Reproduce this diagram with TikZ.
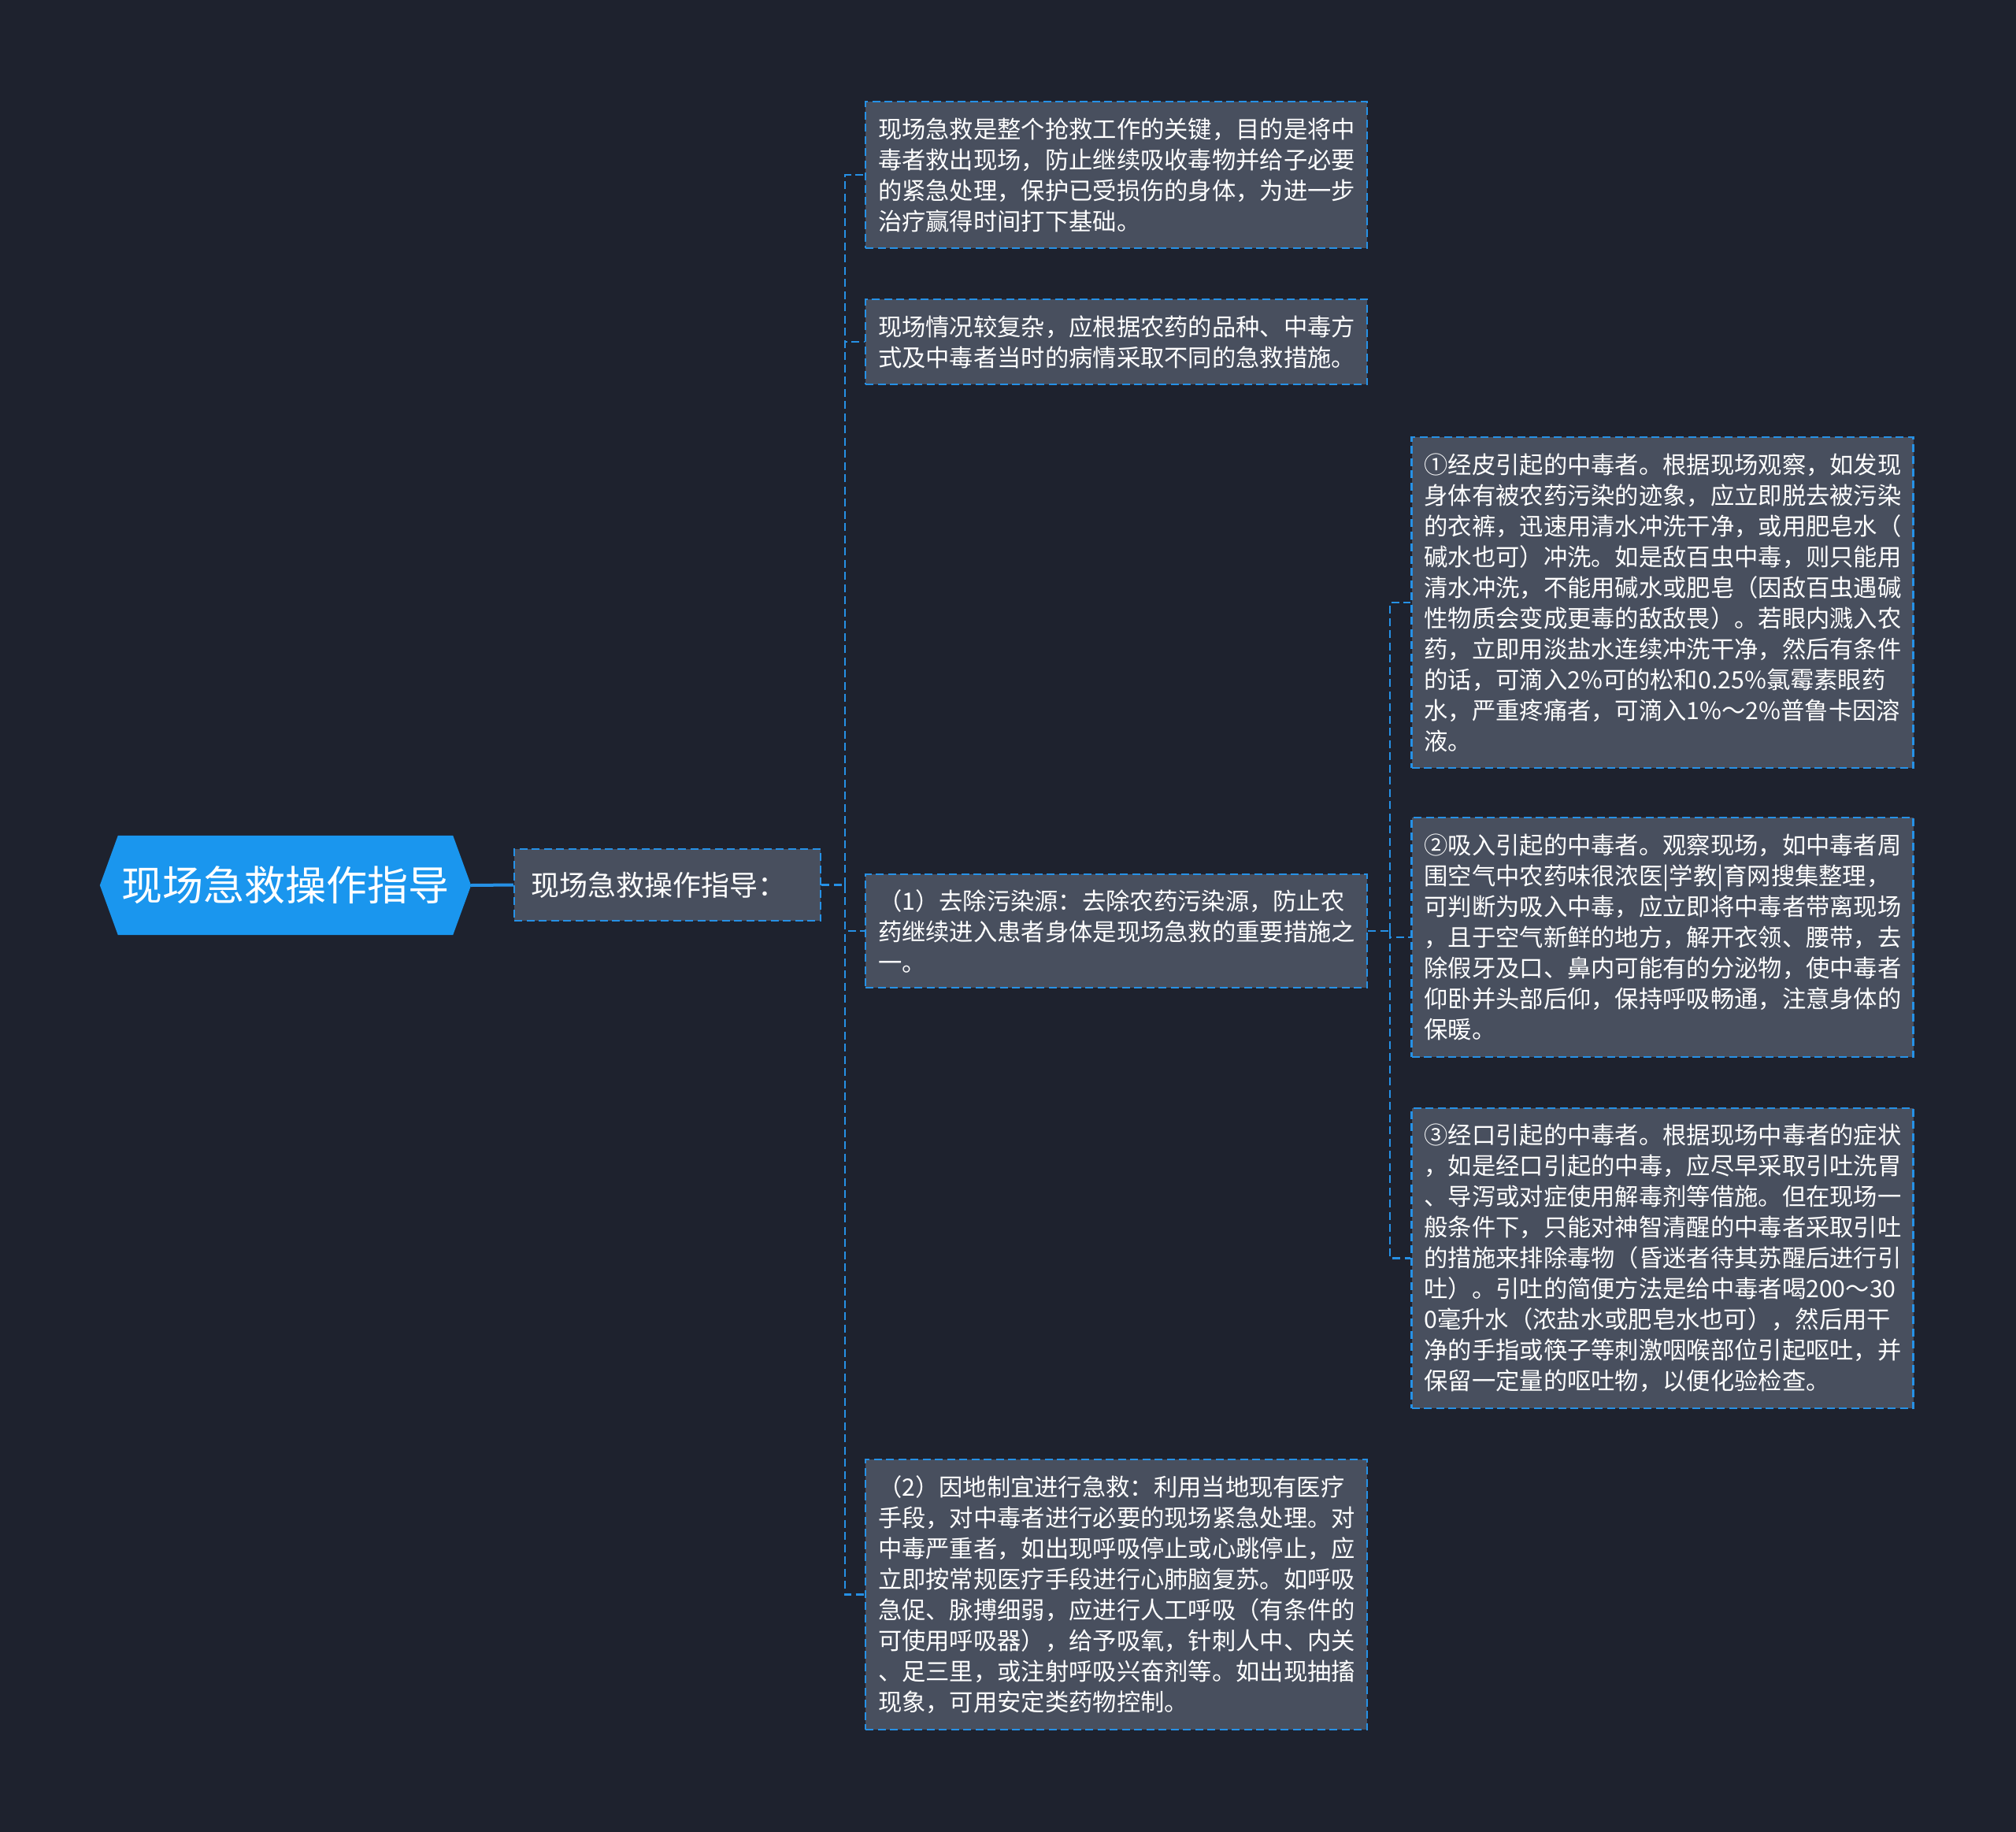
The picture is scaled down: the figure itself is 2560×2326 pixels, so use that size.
\documentclass[tikz,border=0pt]{standalone}
\usepackage{fontspec}
\newfontfamily\cjk{Noto Sans CJK SC}
\usetikzlibrary{calc}
\definecolor{bgdark}{RGB}{30,34,46}
\definecolor{boxgray}{RGB}{72,79,94}
\definecolor{linkblue}{RGB}{38,145,230}
\definecolor{rootblue}{RGB}{26,150,238}
\pgfdeclarelayer{bg}
\pgfsetlayers{bg,main}
\begin{document}
\begin{tikzpicture}[x=1pt,y=-1pt,
  box/.style={draw=linkblue, line width=2.2pt, dash pattern=on 10pt off 5.5pt, fill=boxgray,
    text=white, font=\cjk\fontsize{30.3}{39}\selectfont, align=left,
    inner xsep=16pt, inner ysep=0pt, text width=605pt},
  conn/.style={draw=linkblue, line width=2.2pt, dash pattern=on 10pt off 5.5pt},
  roottext/.style={text=white, font=\cjk\fontsize{52}{60}\selectfont,
    minimum width=471pt, minimum height=126pt, inner sep=0pt},
]
\begin{pgfonlayer}{bg}
\fill[bgdark] (0,0) rectangle (2560,2326);
\end{pgfonlayer}
\useasboundingbox (0,0) rectangle (2560,2326);

% root
\node[roottext] (root) at (362.5,1124) {现场急救操作指导};
\begin{pgfonlayer}{bg}
\fill[rootblue] ($(root.north west)+(23,0)$) -- ($(root.north east)+(-23,0)$) -- (root.east)
  -- ($(root.south east)+(-23,0)$) -- ($(root.south west)+(23,0)$) -- (root.west) -- cycle;
\end{pgfonlayer}

% level 1
\node[box, font=\cjk\fontsize{36}{44}\selectfont, text width=347pt, inner xsep=21pt,
  minimum height=91pt] (sub) at (847.5,1123.5) {现场急救操作指导：};

% level 2
\node[box, minimum height=186pt] (A) at (1417.5,222) {现场急救是整个抢救工作的关键，目的是将中\\毒者救出现场，防止继续吸收毒物并给子必要\\的紧急处理，保护已受损伤的身体，为进一步\\治疗赢得时间打下基础。};
\node[box, minimum height=108pt] (B) at (1417.5,434) {现场情况较复杂，应根据农药的品种、中毒方\\式及中毒者当时的病情采取不同的急救措施。};
\node[box, minimum height=144pt] (C) at (1417.5,1182) {（1）去除污染源：去除农药污染源，防止农\\药继续进入患者身体是现场急救的重要措施之\\一。};
\node[box, minimum height=343pt] (D) at (1417.5,2024.5) {（2）因地制宜进行急救：利用当地现有医疗\\手段，对中毒者进行必要的现场紧急处理。对\\中毒严重者，如出现呼吸停止或心跳停止，应\\立即按常规医疗手段进行心肺脑复苏。如呼吸\\急促、脉搏细弱，应进行人工呼吸（有条件的\\可使用呼吸器），给予吸氧，针刺人中、内关\\、足三里，或注射呼吸兴奋剂等。如出现抽搐\\现象，可用安定类药物控制。};

% level 3
\node[box, minimum height=420pt] (E) at (2111,765) {①经皮引起的中毒者。根据现场观察，如发现\\身体有被农药污染的迹象，应立即脱去被污染\\的衣裤，迅速用清水冲洗干净，或用肥皂水（\\碱水也可）冲洗。如是敌百虫中毒，则只能用\\清水冲洗，不能用碱水或肥皂（因敌百虫遇碱\\性物质会变成更毒的敌敌畏）。若眼内溅入农\\药，立即用淡盐水连续冲洗干净，然后有条件\\的话，可滴入2\%可的松和0.25\%氯霉素眼药\\水，严重疼痛者，可滴入1\%～2\%普鲁卡因溶\\液。};
\node[box, minimum height=304pt] (F) at (2111,1190) {②吸入引起的中毒者。观察现场，如中毒者周\\围空气中农药味很浓医|学教|育网搜集整理，\\可判断为吸入中毒，应立即将中毒者带离现场\\，且于空气新鲜的地方，解开衣领、腰带，去\\除假牙及口、鼻内可能有的分泌物，使中毒者\\仰卧并头部后仰，保持呼吸畅通，注意身体的\\保暖。};
\node[box, minimum height=381pt] (G) at (2111,1597.5) {③经口引起的中毒者。根据现场中毒者的症状\\，如是经口引起的中毒，应尽早采取引吐洗胃\\、导泻或对症使用解毒剂等借施。但在现场一\\般条件下，只能对神智清醒的中毒者采取引吐\\的措施来排除毒物（昏迷者待其苏醒后进行引\\吐）。引吐的简便方法是给中毒者喝200～30\\0毫升水（浓盐水或肥皂水也可），然后用干\\净的手指或筷子等刺激咽喉部位引起呕吐，并\\保留一定量的呕吐物，以便化验检查。};

% connectors
\draw[draw=linkblue, line width=4pt] (root.east) -- (sub.west);
\coordinate (s1) at (1073,1123.5);
\draw[conn] (sub.east) -- (s1);
\draw[conn] (s1) |- (A.west);
\draw[conn] (s1) |- (B.west);
\draw[conn] (s1) |- (C.west);
\draw[conn] (s1) |- (D.west);
\coordinate (s2) at (1765,1182);
\draw[conn] (C.east) -- (s2);
\draw[conn] (s2) |- (E.west);
\draw[conn] (s2) |- (F.west);
\draw[conn] (s2) |- (G.west);
\end{tikzpicture}
\end{document}
